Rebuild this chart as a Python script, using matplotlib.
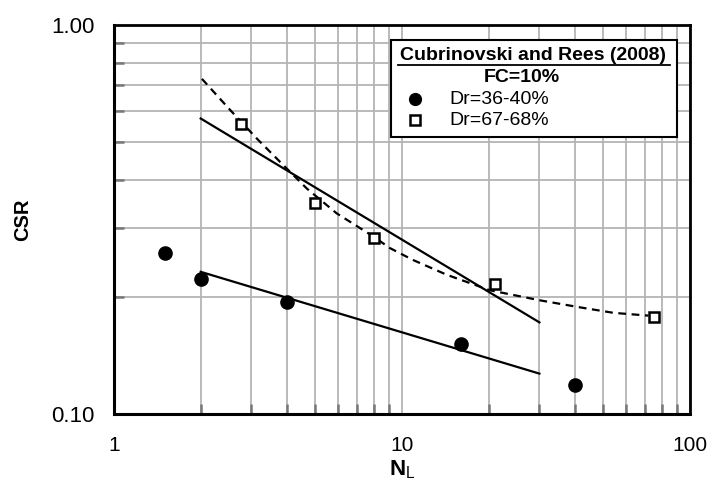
import matplotlib
matplotlib.use("Agg")
import matplotlib.pyplot as plt
from matplotlib.ticker import LogLocator, FixedLocator, NullFormatter, FixedFormatter
from matplotlib.patches import Rectangle
from matplotlib.lines import Line2D

plt.rcParams['font.family'] = ['Liberation Sans', 'DejaVu Sans']
plt.rcParams['mathtext.fontset'] = 'custom'
plt.rcParams['mathtext.rm'] = 'Liberation Sans'
plt.rcParams['mathtext.bf'] = 'Liberation Sans:bold'

# Test results, Cubrinovski and Rees (2008), FC = 10%
n_loose = [1.5, 2.0, 4.0, 16.0, 40.0]
csr_loose = [0.26, 0.223, 0.194, 0.151, 0.119]

n_dense = [2.75, 5.0, 8.0, 21.0, 75.0]
csr_dense = [0.557, 0.348, 0.283, 0.216, 0.178]

# Power-law trend lines (N = 2 to 30)
n_trend = [2.0, 30.0]
csr_trend_dense = [0.575, 0.172]
csr_trend_loose = [0.232, 0.127]

# Dashed curve through the dense-sand results
n_curve = [2.02, 2.53, 3.13, 3.77, 4.67, 5.93, 7.95, 9.08, 10.9, 14.3,
           20.2, 30.1, 41.5, 54.2, 71.7]
csr_curve = [0.727, 0.605, 0.511, 0.445, 0.380, 0.328, 0.286, 0.267, 0.249,
             0.228, 0.208, 0.196, 0.188, 0.182, 0.179]

x_ticks = [1, 10, 100]
x_labels = ['1', '10', '100']
y_ticks = [0.1, 1.0]
y_labels = ['0.10', '1.00']

fig = plt.figure(figsize=(7.12, 4.82), dpi=100)
ax = fig.add_axes([0.1601, 0.1411, 0.809, 0.807])
ax.set_xscale('log')
ax.set_yscale('log')
ax.set_xlim(1, 100)
ax.set_ylim(0.1, 1.0)

grid_color = '#b4b4b4'
ax.xaxis.set_major_locator(FixedLocator(x_ticks))
ax.xaxis.set_major_formatter(FixedFormatter(x_labels))
ax.yaxis.set_major_locator(FixedLocator(y_ticks))
ax.yaxis.set_major_formatter(FixedFormatter(y_labels))
ax.xaxis.set_minor_locator(LogLocator(base=10, subs=range(2, 10), numticks=20))
ax.yaxis.set_minor_locator(LogLocator(base=10, subs=range(2, 10), numticks=20))
ax.xaxis.set_minor_formatter(NullFormatter())
ax.yaxis.set_minor_formatter(NullFormatter())

ax.grid(True, which='both', color=grid_color, linewidth=1.3)
ax.set_axisbelow(True)
ax.tick_params(which='major', direction='in', length=0)
ax.tick_params(axis='x', which='major', labelsize=15, pad=16)
ax.tick_params(axis='y', which='major', labelsize=16, pad=14)
ax.tick_params(which='minor', direction='in', length=7, width=1.8, color='#777777')

for side in ['left', 'bottom']:
    ax.spines[side].set_linewidth(2.2)
for side in ['top', 'right']:
    ax.spines[side].set_linewidth(2.0)

ax.plot(n_trend, csr_trend_dense, color='black', linewidth=1.6, zorder=3)
ax.plot(n_trend, csr_trend_loose, color='black', linewidth=1.6, zorder=3)
ax.plot(n_curve, csr_curve, color='black', linewidth=1.6,
        dashes=(3.5, 2.5), zorder=3)

ax.plot(n_loose, csr_loose, linestyle='none', marker='o', markersize=9.5,
        color='black', zorder=4)
ax.plot(n_dense, csr_dense, linestyle='none', marker='s', markersize=7.5,
        markerfacecolor='white', markeredgecolor='black',
        markeredgewidth=1.8, zorder=4)

ax.set_ylabel('CSR', fontsize=14.5, fontweight='bold', labelpad=14)
ax.set_xlabel(r'$\mathbf{N}_\mathrm{L}$', fontsize=16, labelpad=2)

# Legend box
ax.add_patch(Rectangle((0.481, 0.712), 0.496, 0.249, transform=ax.transAxes,
                       facecolor='white', edgecolor='black', linewidth=1.5,
                       zorder=5))
ax.text(0.727, 0.922, 'Cubrinovski and Rees (2008)', transform=ax.transAxes,
        ha='center', va='center', fontsize=14, fontweight='bold', zorder=6)
ax.add_line(Line2D([0.493, 0.965], [0.898, 0.898], transform=ax.transAxes,
                   color='black', linewidth=1.3, zorder=6))
ax.text(0.708, 0.866, 'FC=10%', transform=ax.transAxes, ha='center',
        va='center', fontsize=14, fontweight='bold', zorder=6)
ax.plot([0.5226], [0.810], transform=ax.transAxes, marker='o',
        markersize=8.5, color='black', zorder=6, clip_on=False)
ax.plot([0.5226], [0.756], transform=ax.transAxes, marker='s',
        markersize=6.5, markerfacecolor='white', markeredgecolor='black',
        markeredgewidth=1.8, zorder=6, clip_on=False)
ax.text(0.583, 0.808, 'Dr=36-40%', transform=ax.transAxes, ha='left',
        va='center', fontsize=14, zorder=6)
ax.text(0.583, 0.754, 'Dr=67-68%', transform=ax.transAxes, ha='left',
        va='center', fontsize=14, zorder=6)

fig.savefig('out.png', dpi=100)
